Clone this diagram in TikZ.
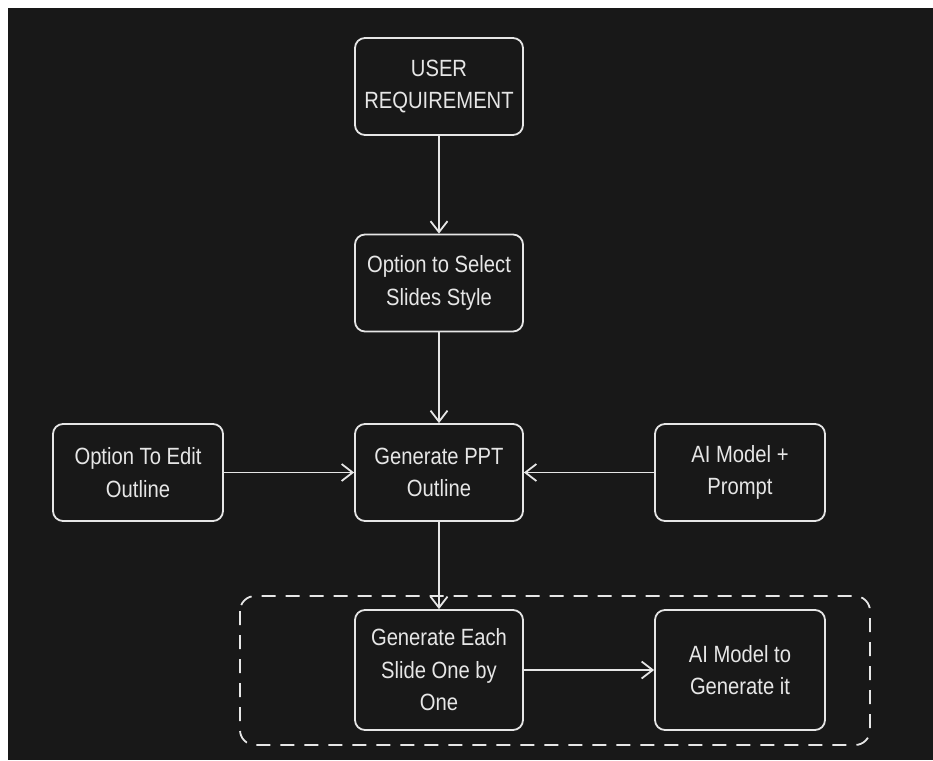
\documentclass[tikz,border=0pt]{standalone}
\usepackage{fontspec}
\setmainfont{Liberation Sans}[FakeStretch=0.86]
\usepackage{xcolor}
\usetikzlibrary{arrows.meta}
\definecolor{bg}{HTML}{181818}
\definecolor{ink}{HTML}{E6E6E6}

\begin{document}
\begin{tikzpicture}[x=1pt,y=-1pt,->,>={Straight Barb[length=11pt,width=17pt]},ink,line width=1.8pt]
    \tikzstyle{box}=[rectangle,draw=ink,rounded corners=10pt,align=center,text=ink,
        minimum width=168pt,minimum height=97pt,inner sep=4pt,
        font=\fontsize{23.5}{32.5}\selectfont]
    \tikzstyle{tallbox}=[box,minimum height=120pt]

    % canvas
    \fill[white] (0,0) rectangle (933,760);
    \fill[bg] (8,8) rectangle (933,760);
    \useasboundingbox (0,0) rectangle (933,760);

    \node[box] (req)     at (439,86.5)  {USER\\REQUIREMENT};
    \node[box] (style)   at (439,283)   {Option to Select\\Slides Style};
    \node[box] (outline) at (439,472.5) {Generate PPT\\Outline};
    \node[box,minimum width=170pt] (edit)   at (138,472.5) {Option To Edit\\Outline};
    \node[box,minimum width=170pt] (prompt) at (740,472.5) {AI Model +\\Prompt};
    \node[tallbox] (each) at (439,670) {Generate Each\\Slide One by\\One};
    \node[tallbox,minimum width=170pt] (gen) at (740,670) {AI Model to\\Generate it};

    % group
    \draw[-,dash pattern=on 14pt off 10pt,rounded corners=15pt] (240,596) rectangle (870,745);

    \draw (req) -- (style);
    \draw (style) -- (outline);
    \draw (edit) -- (outline);
    \draw (prompt) -- (outline);
    \draw (outline) -- (each);
    \draw (each) -- (gen);
\end{tikzpicture}
\end{document}
